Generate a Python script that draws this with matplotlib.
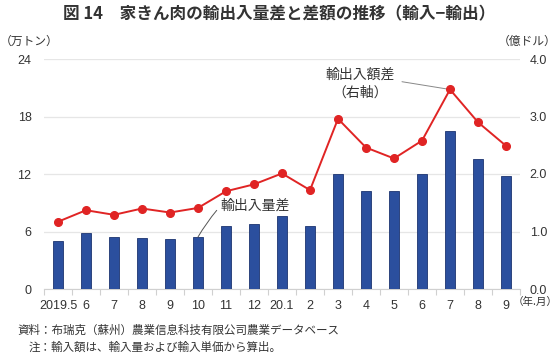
import matplotlib
matplotlib.use("Agg")
import matplotlib.pyplot as plt
import numpy as np

plt.rcParams['font.family'] = ['Liberation Sans', 'Noto Sans CJK JP', 'DejaVu Sans']

categories = ["2019.5", "6", "7", "8", "9", "10", "11", "12", "20.1", "2",
              "3", "4", "5", "6", "7", "8", "9"]
volume_diff = [5.0, 5.85, 5.4, 5.37, 5.2, 5.43, 6.6, 6.8, 7.65, 6.55,
               11.95, 10.2, 10.2, 12.0, 16.5, 13.6, 11.8]
value_diff = [1.17, 1.37, 1.29, 1.40, 1.33, 1.41, 1.70, 1.82, 2.01, 1.72,
              2.96, 2.46, 2.27, 2.58, 3.47, 2.90, 2.49]
left_ticks = [0, 6, 12, 18, 24]
right_ticks = [0.0, 1.0, 2.0, 3.0, 4.0]

W, H = 558, 355
fig = plt.figure(figsize=(W / 100, H / 100), dpi=100)
ax = fig.add_axes([44 / W, 1 - 289 / H, 476 / W, 230 / H])
ax2 = ax.twinx()

txt = '#333333'
x = np.arange(len(categories))
ax.bar(x, volume_diff, width=0.34, color='#2b4f9e', edgecolor='#1c3470',
       linewidth=0.6, zorder=3)
ax.set_xlim(-0.5, len(categories) - 0.5)
ax.set_ylim(0, 24)
ax.set_yticks(left_ticks)
ax.set_yticklabels([str(t) for t in left_ticks])
ax.grid(axis='y', color='#e6e6e6', linewidth=0.9, zorder=0)
ax.set_axisbelow(True)
for s in ['top', 'right', 'left']:
    ax.spines[s].set_visible(False)
ax.spines['bottom'].set_color('#d0d0d0')
ax.set_xticks(x)
ax.set_xticklabels(categories)
ax.set_xticks(np.arange(-0.5, len(categories), 1.0), minor=True)
ax.tick_params(axis='x', which='major', length=0, pad=8, labelsize=9, labelcolor=txt)
ax.tick_params(axis='x', which='minor', length=4, color='#d0d0d0', width=0.8)
ax.tick_params(axis='y', length=0, pad=9, labelsize=9, labelcolor=txt)

ax2.plot(x, value_diff, color='#e02424', linewidth=1.4, marker='o',
         markersize=5.5, markerfacecolor='#e02424', markeredgecolor='#e02424', zorder=4)
ax2.set_ylim(0, 4)
ax2.set_yticks(right_ticks)
ax2.set_yticklabels([f"{t:.1f}" for t in right_ticks])
ax2.tick_params(axis='y', length=0, pad=7, labelsize=9, labelcolor=txt)
for s in ['top', 'right', 'left', 'bottom']:
    ax2.spines[s].set_visible(False)

jp = ['Noto Sans CJK JP', 'DejaVu Sans']

ax.annotate("輸出入量差", xy=(5, volume_diff[5]), xytext=(5.8, 8.65),
            ha='left', va='center', fontsize=10, color=txt, family=jp,
            arrowprops=dict(arrowstyle='-', color='#555555', lw=0.7,
                            relpos=(0, 0.5), shrinkA=1, shrinkB=0,
                            connectionstyle='arc3,rad=0.05'))
ax2.annotate("輸出入額差\n（右軸）", xy=(14, value_diff[14]), xytext=(10.8, 3.57),
             ha='center', va='center', fontsize=10, color=txt, family=jp,
             linespacing=1.3,
             arrowprops=dict(arrowstyle='-', color='#888888', lw=0.7,
                             relpos=(1, 0.6), shrinkA=3, shrinkB=2))

fig.text(279 / W, 1 - 14 / H, "図 14　家きん肉の輸出入量差と差額の推移（輸入−輸出）",
         ha='center', va='center', fontsize=12, fontweight='bold', color='#333333',
         family=jp)
fig.text(0 / W, 1 - 41 / H, "（万トン）", ha='left', va='center', fontsize=8.5,
         color=txt, family=jp)
fig.text(557 / W, 1 - 41 / H, "（億ドル）", ha='right', va='center', fontsize=8.5,
         color=txt, family=jp)
fig.text(513 / W, 1 - 302 / H, "（年.月）", ha='left', va='center', fontsize=7.6,
         color=txt, family=jp)
fig.text(17 / W, 1 - 330 / H, "資料：布瑞克（蘇州）農業信息科技有限公司農業データベース",
         ha='left', va='center', fontsize=8.3, color=txt, family=jp)
fig.text(29 / W, 1 - 347 / H, "注：輸入額は、輸入量および輸入単価から算出。",
         ha='left', va='center', fontsize=8.3, color=txt, family=jp)

fig.savefig("out.png", dpi=100)
